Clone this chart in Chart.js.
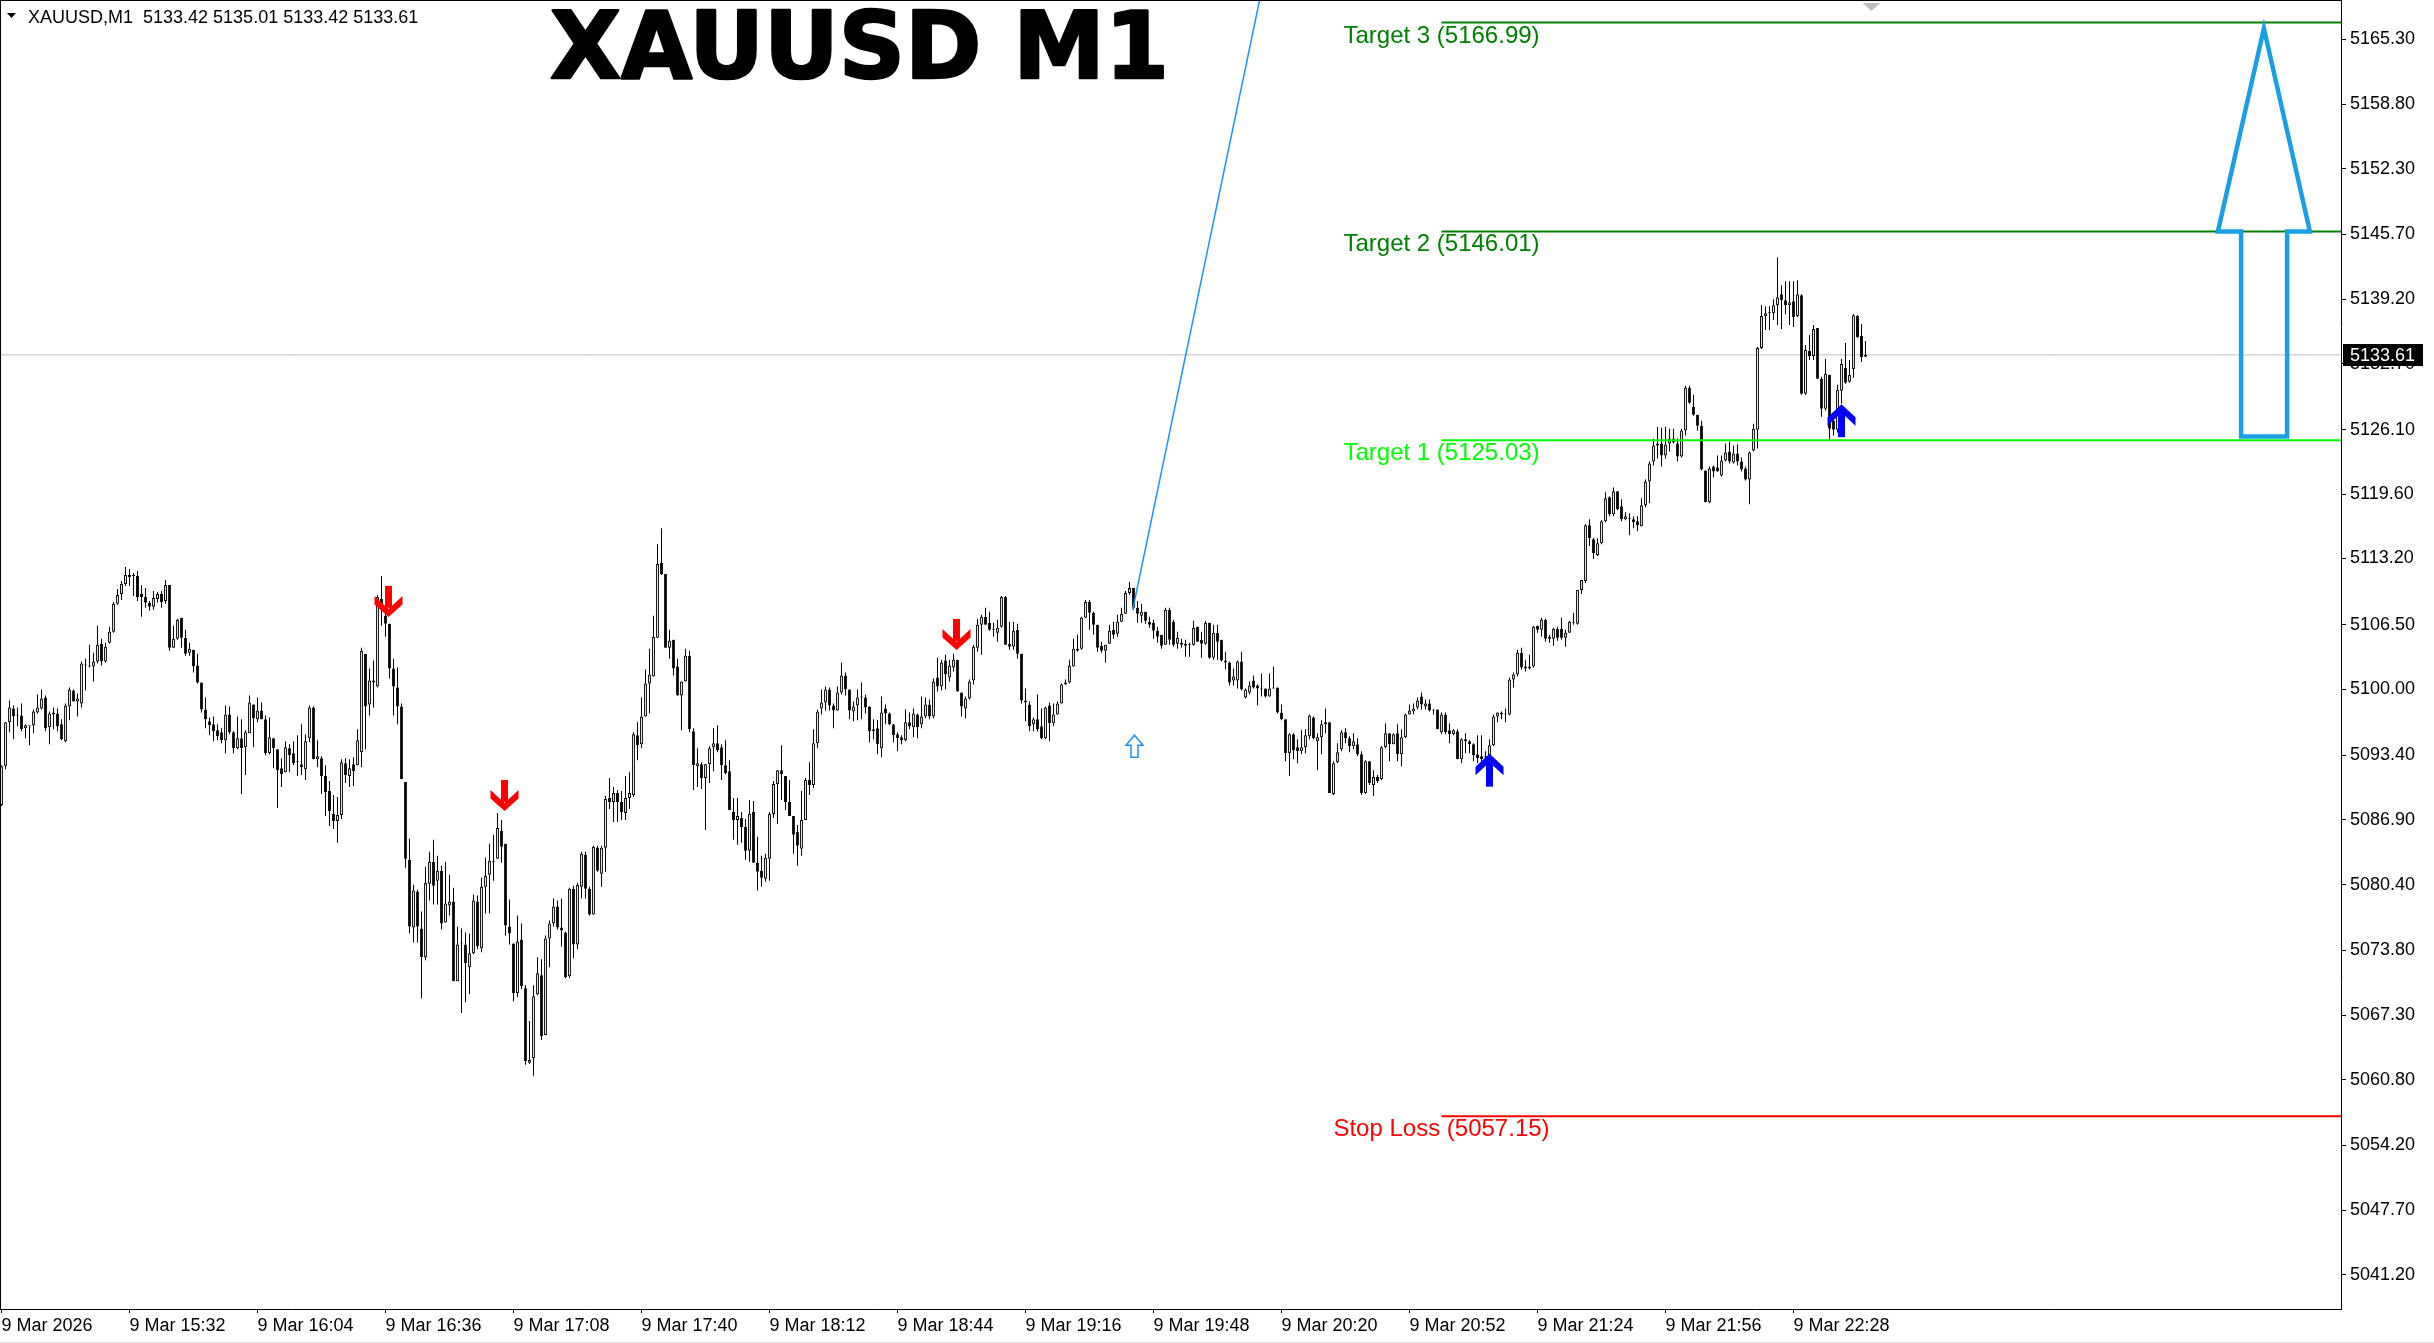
<!DOCTYPE html>
<html><head><meta charset="utf-8">
<script src="https://cdn.jsdelivr.net/npm/chart.js@4.4.1/dist/chart.umd.min.js"></script>
<style>html,body{margin:0;padding:0;background:#fff;overflow:hidden}</style>
</head><body>
<canvas id="c" width="2434" height="1343" style="display:block;width:2434px;height:1343px"></canvas>
<script>
// ---------------- DATA ----------------
const symbol = 'XAUUSD';
const timeframe = 'M1';
const opens = [
5088.4,5092.3,5096.7,5098.1,5097.4,5097.4,5096.1,5096.3,5096.4,5097.7,
5098.1,5099.2,5096.2,5097.7,5097.6,5096.5,5094.8,5098.3,5099.9,5098.8,
5098.6,5102.4,5102.3,5102.3,5102.8,5104.6,5102.8,5104.7,5105.8,5108.6,
5109.6,5110.6,5111.5,5111.4,5111.4,5109.6,5109.3,5108.7,5108.3,5109.1,
5109.6,5108.9,5110.5,5104.2,5105.1,5107.2,5105.2,5103.7,5104.0,5102.4,
5100.7,5098.0,5096.8,5096.5,5095.9,5095.7,5094.9,5097.5,5095.7,5094.1,
5095.1,5094.2,5095.6,5098.5,5097.0,5097.9,5097.0,5093.6,5095.1,5094.0,
5092.1,5091.7,5094.1,5093.6,5092.7,5092.5,5092.0,5095.1,5098.2,5093.0,
5093.1,5091.3,5089.8,5087.5,5086.8,5087.4,5092.6,5091.3,5092.5,5092.4,
5093.7,5103.6,5098.5,5100.9,5100.3,5109.1,5107.4,5106.6,5102.1,5100.2,
5098.3,5090.7,5082.9,5076.1,5079.7,5076.0,5073.1,5080.5,5082.7,5080.8,
5081.8,5076.6,5078.3,5078.7,5070.7,5074.5,5074.4,5072.1,5073.5,5078.7,
5074.0,5080.2,5081.4,5082.7,5083.0,5085.8,5084.5,5076.2,5074.5,5069.5,
5074.9,5070.0,5062.5,5063.0,5069.4,5071.3,5065.3,5075.0,5076.5,5078.2,
5076.1,5075.6,5071.2,5080.0,5074.4,5080.2,5083.4,5080.0,5077.4,5084.1,
5081.5,5084.1,5089.1,5088.7,5089.6,5088.7,5087.6,5089.1,5089.4,5095.4,
5094.5,5097.3,5100.6,5101.3,5105.2,5112.7,5111.6,5104.2,5105.0,5102.3,
5099.4,5100.8,5103.4,5095.8,5092.3,5092.5,5091.1,5092.5,5094.2,5094.6,
5094.2,5092.4,5091.8,5087.7,5086.9,5087.1,5086.2,5083.8,5087.7,5082.6,
5081.8,5081.0,5083.0,5087.5,5090.5,5091.9,5091.3,5088.7,5087.3,5085.7,
5084.0,5086.9,5090.9,5090.4,5094.6,5098.1,5098.7,5100.0,5098.4,5097.9,
5099.7,5101.4,5100.0,5097.8,5098.4,5099.2,5099.2,5098.3,5095.8,5096.1,
5094.1,5098.1,5097.6,5096.5,5095.5,5095.2,5094.9,5096.7,5096.2,5097.5,
5096.5,5097.3,5098.5,5097.3,5101.2,5100.3,5102.9,5101.2,5102.2,5103.0,
5099.7,5098.1,5099.1,5100.9,5104.2,5106.5,5107.3,5106.7,5106.0,5105.7,
5106.3,5109.3,5104.6,5104.3,5106.0,5103.6,5098.9,5098.5,5096.5,5097.0,
5096.3,5095.1,5098.4,5096.6,5097.5,5098.6,5100.5,5100.7,5102.3,5103.9,
5104.1,5107.2,5108.8,5107.7,5106.5,5104.4,5103.9,5104.6,5106.0,5105.6,
5106.8,5107.6,5109.7,5110.2,5108.2,5107.4,5107.8,5106.8,5106.7,5105.9,
5105.5,5104.5,5108.0,5106.8,5104.6,5104.7,5104.6,5104.5,5104.5,5106.3,
5105.0,5104.6,5106.7,5103.2,5105.7,5105.0,5102.9,5102.7,5100.9,5100.9,
5102.8,5099.2,5099.7,5100.9,5100.4,5100.0,5100.1,5099.3,5100.1,5100.2,
5097.7,5097.0,5093.6,5095.5,5094.2,5093.8,5094.2,5095.3,5097.2,5094.8,
5095.2,5096.5,5096.7,5089.5,5092.7,5094.0,5095.7,5095.1,5094.3,5094.5,
5093.5,5089.6,5092.8,5090.4,5091.2,5091.0,5094.2,5095.6,5094.5,5095.6,
5093.5,5095.2,5097.5,5097.8,5098.2,5099.3,5098.3,5098.6,5098.0,5098.0,
5095.7,5097.5,5095.9,5095.5,5095.8,5093.0,5095.0,5094.8,5094.5,5093.5,
5093.3,5093.2,5093.3,5094.4,5097.3,5097.5,5097.5,5097.5,5101.0,5101.5,
5103.7,5102.3,5102.1,5102.3,5106.4,5106.0,5107.0,5105.1,5105.1,5106.1,
5106.1,5105.2,5105.7,5106.7,5106.6,5110.0,5110.9,5116.5,5115.1,5113.5,
5114.7,5116.9,5119.3,5117.6,5119.9,5118.4,5117.1,5117.1,5117.1,5116.9,
5116.4,5118.5,5120.9,5122.9,5124.5,5124.7,5123.5,5124.7,5125.2,5124.7,
5123.4,5126.0,5130.3,5128.4,5127.6,5126.5,5122.0,5118.8,5122.4,5122.3,
5121.5,5123.0,5123.9,5122.8,5123.7,5122.9,5122.2,5121.1,5124.0,5126.1,
5134.3,5137.5,5137.8,5137.8,5138.6,5139.7,5139.1,5138.6,5139.0,5137.5,
5139.6,5129.7,5134.0,5133.5,5136.3,5131.2,5128.2,5131.6,5127.0,5126.1,
5130.0,5132.3,5130.9,5132.2,5137.5,5135.5,5133.42];
const highs = [
5092.4,5096.7,5098.9,5098.4,5098.2,5098.6,5096.5,5096.3,5098.0,5099.5,
5100.0,5099.4,5097.8,5098.2,5098.1,5097.0,5098.6,5100.2,5100.0,5099.6,
5102.8,5103.1,5104.5,5103.7,5106.4,5105.1,5104.7,5106.3,5108.8,5110.1,
5110.9,5112.3,5112.1,5111.7,5111.9,5110.5,5110.2,5108.9,5109.9,5109.8,
5109.9,5111.0,5110.5,5106.4,5107.1,5107.2,5106.0,5104.7,5104.0,5103.6,
5100.7,5099.2,5097.2,5097.3,5096.5,5096.1,5098.4,5098.3,5095.8,5097.3,
5097.0,5095.9,5099.4,5098.5,5099.2,5098.7,5097.4,5097.2,5095.1,5094.0,
5093.1,5094.8,5094.5,5094.8,5095.4,5096.5,5095.5,5098.4,5098.3,5094.9,
5093.3,5092.4,5090.8,5089.4,5089.2,5093.0,5093.1,5093.0,5093.2,5096.0,
5104.2,5103.6,5102.1,5102.9,5109.5,5111.4,5108.8,5106.6,5103.1,5102.2,
5098.6,5090.7,5085.0,5080.4,5079.9,5077.7,5082.2,5083.7,5084.9,5083.3,
5082.3,5082.7,5081.4,5080.1,5076.2,5076.0,5075.6,5075.5,5079.4,5079.3,
5081.1,5083.1,5084.5,5085.4,5087.6,5086.9,5084.5,5078.9,5074.5,5077.3,
5076.5,5070.3,5066.7,5070.3,5073.1,5072.9,5075.3,5076.8,5079.0,5078.8,
5079.0,5075.7,5080.1,5080.3,5080.6,5083.7,5083.7,5080.2,5084.3,5084.3,
5084.3,5089.3,5091.1,5090.2,5089.9,5089.8,5091.3,5091.7,5095.7,5096.7,
5099.2,5102.0,5104.1,5107.4,5114.6,5116.2,5111.6,5106.0,5105.0,5103.1,
5100.8,5104.1,5103.9,5096.1,5094.1,5092.7,5092.5,5094.3,5096.1,5096.4,
5094.5,5094.9,5092.9,5089.1,5089.1,5087.7,5087.0,5088.9,5088.8,5085.2,
5083.3,5083.5,5087.7,5090.8,5091.9,5094.4,5091.3,5090.9,5087.3,5086.4,
5089.8,5091.1,5092.7,5096.0,5098.0,5100.0,5100.3,5100.2,5098.6,5100.3,
5102.7,5101.7,5100.0,5098.8,5100.0,5100.7,5099.5,5098.3,5097.0,5096.9,
5099.3,5098.5,5097.7,5096.5,5095.7,5095.4,5098.0,5097.7,5098.1,5097.6,
5099.3,5099.2,5099.0,5101.1,5103.2,5103.0,5103.5,5103.0,5103.6,5103.0,
5099.7,5099.3,5101.0,5104.5,5107.1,5107.5,5108.2,5107.8,5106.7,5107.0,
5109.4,5109.4,5106.8,5106.8,5106.6,5103.6,5100.1,5098.8,5097.2,5099.5,
5098.1,5098.3,5098.7,5098.6,5098.8,5100.6,5101.0,5103.0,5105.1,5105.5,
5107.3,5109.0,5109.0,5107.8,5106.5,5104.8,5104.5,5106.5,5106.8,5107.5,
5108.2,5109.9,5110.8,5110.2,5108.9,5108.6,5107.8,5107.3,5107.0,5106.3,
5105.5,5108.2,5108.2,5107.0,5105.8,5105.1,5105.0,5104.7,5106.9,5106.3,
5105.8,5106.9,5106.7,5106.5,5106.5,5105.0,5103.8,5102.8,5102.1,5102.9,
5103.8,5100.1,5100.8,5101.4,5100.5,5101.6,5100.1,5101.6,5102.3,5100.2,
5098.5,5097.0,5095.6,5095.6,5095.0,5095.9,5096.0,5097.5,5097.3,5095.6,
5096.9,5098.1,5096.7,5092.8,5094.6,5095.9,5096.1,5095.3,5095.6,5095.1,
5093.8,5092.9,5092.8,5091.9,5091.4,5094.3,5096.6,5095.6,5095.6,5096.5,
5096.0,5097.6,5098.5,5098.6,5099.2,5099.7,5099.0,5099.0,5098.0,5098.0,
5097.7,5097.7,5096.6,5096.0,5096.0,5095.1,5095.6,5094.9,5094.6,5095.4,
5095.4,5093.8,5095.0,5097.5,5097.7,5097.8,5098.1,5101.2,5101.7,5104.0,
5104.2,5103.0,5103.5,5106.4,5106.4,5107.2,5107.1,5105.5,5106.2,5106.3,
5107.2,5106.0,5106.9,5107.7,5110.0,5111.0,5116.6,5117.1,5115.2,5115.2,
5117.0,5119.8,5119.4,5120.3,5119.9,5119.1,5117.8,5117.7,5117.4,5117.4,
5119.2,5121.1,5122.9,5125.2,5126.4,5126.3,5126.4,5126.2,5126.2,5125.2,
5126.2,5130.5,5130.5,5129.6,5127.6,5127.0,5122.0,5122.4,5122.5,5123.5,
5123.5,5124.7,5124.9,5124.5,5124.6,5123.3,5122.4,5123.9,5126.7,5134.4,
5138.6,5138.5,5138.5,5139.2,5143.4,5140.6,5141.0,5141.0,5141.0,5141.1,
5139.7,5134.6,5135.6,5136.6,5136.3,5131.4,5133.2,5131.6,5127.5,5130.6,
5133.2,5134.8,5133.1,5137.7,5137.6,5136.7,5135.01];
const lows = [
5088.3,5092.0,5095.7,5095.0,5096.3,5095.8,5095.1,5094.4,5095.6,5097.6,
5098.0,5095.8,5094.5,5096.0,5095.8,5094.9,5094.7,5096.9,5098.8,5097.3,
5098.2,5099.9,5102.2,5100.8,5102.6,5102.4,5102.7,5104.6,5105.7,5108.5,
5109.0,5110.4,5110.4,5109.4,5108.9,5107.3,5108.2,5107.9,5108.0,5108.7,
5108.2,5108.6,5103.9,5104.2,5105.0,5104.2,5103.4,5103.4,5101.7,5100.6,
5097.7,5096.1,5095.4,5094.8,5094.9,5094.6,5093.6,5095.5,5093.6,5094.0,
5089.5,5091.4,5095.6,5094.2,5096.7,5097.0,5093.4,5093.5,5092.1,5088.1,
5090.2,5091.7,5091.7,5092.4,5091.3,5091.4,5090.9,5094.7,5093.0,5092.2,
5089.5,5087.3,5086.3,5086.0,5084.6,5087.0,5090.6,5090.2,5090.3,5092.4,
5092.2,5094.0,5097.4,5098.2,5100.2,5106.4,5105.3,5101.1,5097.4,5096.5,
5091.0,5082.1,5075.5,5074.6,5074.6,5069.0,5072.8,5078.8,5078.4,5078.4,
5075.9,5076.6,5077.3,5070.7,5070.7,5067.5,5068.6,5069.4,5073.4,5073.9,
5073.6,5077.5,5077.5,5080.8,5083.0,5082.6,5075.3,5074.4,5068.7,5069.1,
5069.9,5062.3,5062.4,5061.2,5069.3,5064.8,5065.3,5072.1,5076.2,5075.9,
5074.2,5071.0,5071.0,5073.0,5073.9,5079.0,5079.0,5077.3,5077.4,5081.7,
5080.2,5081.7,5088.0,5086.7,5086.7,5086.9,5086.9,5088.0,5089.2,5092.9,
5094.1,5097.3,5097.6,5101.3,5105.2,5111.5,5104.2,5103.1,5101.4,5099.4,
5095.9,5100.8,5095.7,5089.9,5090.2,5090.0,5085.9,5090.6,5091.8,5093.7,
5090.9,5091.5,5087.9,5084.9,5084.4,5084.6,5082.9,5082.7,5082.6,5079.8,
5080.2,5080.7,5080.8,5087.1,5086.5,5088.9,5087.9,5087.3,5083.5,5082.3,
5083.3,5086.9,5089.4,5090.1,5094.1,5097.5,5097.9,5097.9,5096.1,5097.9,
5099.5,5099.4,5097.0,5096.8,5096.9,5097.0,5097.6,5094.7,5095.0,5093.5,
5093.2,5096.5,5096.4,5094.7,5093.8,5094.5,5094.8,5096.0,5095.2,5095.1,
5096.1,5097.1,5097.0,5097.1,5099.8,5099.9,5100.0,5100.8,5101.8,5099.8,
5097.3,5097.1,5099.0,5100.5,5103.8,5103.5,5106.5,5105.9,5105.3,5104.8,
5106.2,5104.5,5104.0,5104.0,5103.1,5098.6,5096.8,5095.8,5095.8,5095.8,
5095.0,5095.0,5094.8,5096.3,5097.5,5098.6,5100.5,5100.6,5102.3,5103.8,
5104.0,5107.2,5106.0,5105.5,5103.8,5103.7,5102.7,5104.6,5105.1,5105.3,
5106.8,5107.6,5109.5,5108.0,5106.7,5106.7,5106.6,5106.2,5105.1,5104.7,
5104.1,5104.5,5104.5,5104.3,5104.1,5104.2,5103.3,5103.3,5104.4,5104.8,
5103.2,5104.5,5103.1,5103.0,5103.0,5102.8,5102.0,5100.4,5100.4,5100.1,
5099.9,5099.1,5099.5,5100.1,5098.4,5099.3,5099.2,5099.3,5100.1,5097.6,
5096.9,5092.8,5091.3,5093.0,5092.6,5093.5,5093.6,5095.0,5095.0,5091.9,
5093.5,5095.6,5089.6,5089.4,5092.6,5093.8,5094.6,5093.7,5094.0,5093.3,
5089.4,5089.5,5090.4,5089.3,5090.6,5090.9,5094.1,5092.8,5094.5,5092.8,
5092.3,5095.1,5097.5,5097.5,5098.0,5098.0,5098.0,5097.8,5097.5,5096.0,
5095.5,5095.5,5094.6,5095.4,5093.0,5092.6,5093.6,5093.6,5092.8,5092.6,
5092.8,5093.1,5093.2,5094.3,5096.7,5097.0,5096.7,5097.4,5100.2,5101.3,
5102.0,5101.8,5102.0,5102.2,5105.7,5105.3,5104.8,5104.7,5104.4,5104.9,
5105.0,5104.3,5105.7,5106.5,5106.5,5109.6,5110.7,5114.4,5113.1,5113.4,
5114.6,5116.8,5117.4,5117.4,5118.0,5116.9,5117.0,5115.5,5116.2,5115.9,
5116.4,5118.3,5118.7,5122.5,5123.2,5122.4,5123.2,5123.9,5124.7,5122.9,
5123.3,5125.5,5128.7,5127.5,5126.0,5122.0,5118.8,5118.7,5121.3,5121.9,
5121.4,5122.9,5122.7,5122.7,5122.5,5121.9,5121.0,5118.6,5123.9,5124.2,
5134.2,5136.1,5136.1,5137.1,5136.6,5136.2,5137.7,5136.6,5136.4,5137.4,
5129.6,5129.6,5133.1,5133.1,5131.2,5127.4,5128.0,5125.0,5125.5,5125.8,
5128.7,5130.7,5130.8,5131.3,5135.3,5132.9,5133.42];
const closes = [
5092.3,5096.7,5098.2,5097.3,5097.4,5096.0,5096.4,5096.3,5097.8,5098.2,
5099.1,5096.1,5097.6,5097.5,5096.3,5095.0,5098.4,5100.0,5098.8,5099.1,
5102.6,5102.4,5102.3,5102.8,5104.5,5102.8,5104.3,5105.8,5108.6,5109.5,
5110.6,5111.5,5111.3,5111.4,5109.3,5109.3,5108.7,5108.3,5109.2,5109.6,
5108.8,5110.5,5104.2,5105.1,5107.0,5105.2,5103.6,5104.1,5102.3,5100.7,
5098.0,5097.0,5096.4,5095.8,5095.3,5094.9,5097.5,5095.7,5094.1,5095.1,
5094.1,5095.7,5098.7,5097.1,5097.9,5097.0,5093.6,5095.2,5094.1,5091.9,
5091.5,5094.2,5093.4,5092.6,5092.7,5092.2,5094.8,5098.2,5093.0,5093.3,
5091.3,5089.7,5087.8,5086.8,5087.4,5092.7,5091.4,5092.1,5091.8,5094.9,
5103.9,5098.3,5100.9,5100.7,5109.3,5108.4,5106.6,5102.1,5100.3,5098.3,
5091.0,5083.0,5076.2,5079.8,5076.2,5073.1,5080.6,5082.7,5080.3,5081.8,
5076.5,5078.5,5078.7,5070.7,5074.4,5074.5,5072.5,5073.5,5078.8,5074.2,
5080.2,5081.3,5082.8,5082.7,5086.1,5084.2,5076.3,5075.5,5069.5,5074.7,
5070.2,5062.7,5062.8,5069.2,5071.5,5065.2,5075.0,5076.5,5078.2,5076.1,
5075.8,5071.1,5080.0,5074.4,5080.4,5083.5,5080.0,5077.4,5084.2,5081.8,
5084.1,5089.0,5088.7,5089.6,5088.7,5087.7,5089.1,5089.6,5095.5,5094.4,
5097.3,5100.6,5101.5,5105.3,5112.6,5111.6,5104.2,5104.9,5102.1,5099.4,
5100.8,5103.4,5096.0,5092.4,5092.6,5091.1,5092.5,5094.1,5094.6,5093.9,
5092.4,5091.6,5087.9,5086.9,5087.3,5086.2,5083.8,5087.5,5082.6,5081.7,
5081.1,5083.1,5087.5,5090.5,5091.9,5091.5,5088.7,5087.3,5085.4,5084.3,
5086.9,5090.9,5090.4,5094.6,5097.8,5098.7,5100.0,5098.4,5097.9,5099.7,
5101.4,5100.0,5097.9,5098.3,5099.2,5099.2,5098.2,5095.8,5096.0,5094.5,
5097.7,5097.6,5096.5,5095.4,5095.1,5094.9,5096.7,5096.3,5097.6,5096.2,
5097.3,5098.5,5097.3,5100.8,5100.3,5102.7,5101.5,5102.4,5103.0,5099.8,
5098.3,5099.1,5100.8,5104.3,5106.5,5107.3,5106.5,5106.0,5106.0,5106.2,
5109.3,5104.5,5104.3,5105.9,5103.6,5098.9,5098.7,5096.3,5097.0,5096.0,
5095.1,5098.2,5096.6,5097.5,5098.6,5100.5,5100.7,5102.4,5104.1,5104.1,
5107.2,5108.8,5107.7,5106.5,5104.2,5103.9,5104.5,5105.9,5105.5,5106.8,
5107.6,5109.7,5110.2,5108.2,5107.6,5107.8,5106.9,5106.5,5105.9,5105.3,
5104.4,5108.0,5105.0,5104.5,5105.2,5104.5,5104.4,5104.5,5106.2,5104.8,
5104.6,5106.7,5103.2,5105.7,5104.8,5102.9,5102.7,5100.7,5101.3,5102.8,
5100.0,5100.0,5100.4,5100.2,5100.1,5100.0,5099.3,5100.1,5100.1,5097.7,
5097.0,5093.6,5095.5,5093.9,5093.8,5094.2,5095.4,5097.4,5095.1,5095.2,
5096.5,5096.7,5089.6,5092.6,5093.7,5095.7,5095.1,5094.3,5094.8,5093.5,
5089.6,5092.8,5090.6,5091.2,5090.8,5094.2,5095.6,5094.5,5095.5,5093.5,
5095.2,5097.5,5097.9,5098.1,5098.9,5098.5,5098.6,5097.9,5097.9,5096.0,
5097.5,5095.7,5095.5,5095.9,5093.0,5095.0,5094.8,5094.5,5093.4,5093.1,
5093.0,5093.2,5094.4,5097.3,5097.7,5097.7,5097.5,5101.0,5101.5,5103.7,
5102.2,5102.1,5102.3,5106.3,5106.0,5107.0,5105.1,5105.3,5106.1,5105.2,
5105.2,5105.7,5106.8,5106.8,5110.0,5111.0,5116.5,5115.2,5113.7,5114.7,
5116.9,5119.2,5117.6,5119.9,5118.1,5117.1,5117.4,5117.2,5116.8,5116.5,
5118.5,5120.9,5122.7,5124.5,5124.7,5123.5,5124.6,5125.2,5124.8,5123.4,
5126.0,5130.3,5128.8,5127.6,5126.5,5122.1,5118.8,5122.2,5121.9,5121.9,
5123.0,5123.8,5122.9,5123.7,5122.9,5122.1,5121.1,5123.8,5126.2,5134.3,
5137.5,5137.8,5137.8,5138.6,5139.4,5139.1,5138.6,5138.9,5137.4,5139.7,
5129.7,5134.1,5133.5,5136.2,5131.2,5128.2,5131.7,5126.2,5126.1,5130.1,
5132.7,5130.8,5131.6,5137.6,5135.4,5133.4,5133.61];

// time axis: bar index of each label (1 bar = 1 minute from 15:00) and texts
const timeTickIdx = [0,32,64,96,128,160,192,224,256,288,320,352,384,416,448];
const timeLabels = ['9 Mar 2026','9 Mar 15:32','9 Mar 16:04','9 Mar 16:36','9 Mar 17:08','9 Mar 17:40',
  '9 Mar 18:12','9 Mar 18:44','9 Mar 19:16','9 Mar 19:48','9 Mar 20:20','9 Mar 20:52',
  '9 Mar 21:24','9 Mar 21:56','9 Mar 22:28'];
// price axis ticks
const priceTicks = [5165.30,5158.80,5152.30,5145.70,5139.20,5132.70,5126.10,5119.60,5113.20,5106.50,
  5100.00,5093.40,5086.90,5080.40,5073.80,5067.30,5060.80,5054.20,5047.70,5041.20];
// visible range (bars, price)
const xRange = [-0.375, 584.875];
const yRange = [5037.78, 5169.25];

// levels
const levelLabels = ['Target 3','Target 2','Target 1','Stop Loss'];
const levelValues = [5166.99, 5146.01, 5125.03, 5057.15];
const levelStartBar = 360;

// signal arrows (bar index, price at arrow centre)
const sellArrowX = [96.6, 125.6, 238.6];
const sellArrowY = [5108.85, 5089.35, 5105.53];
const buyArrowX = [371.9, 459.8];
const buyArrowY = [5091.9, 5127.0];
const hollowArrowX = [283.0];
const hollowArrowY = [5094.3];

// trend line
const trendX = [282.8, 316.0];
const trendY = [5108.0, 5172.1];

// big target arrow outline (bar index, price)
const bigArrowX = [565.6, 577.1, 571.4, 571.4, 559.9, 559.9, 554.1];
const bigArrowY = [5166.4, 5146.0, 5146.0, 5125.4, 5125.4, 5146.0, 5146.0];

// chart shift marker (bar index)
const shiftMarkX = 467.5;

// ---------------- STYLE ----------------
const FONT = '"Liberation Sans", Arial, sans-serif';
const STYLE = {
  levelColors: ['#008000', '#008000', '#00ff00', '#ff0000'],
  sell: '#ff0000', buy: '#0000ff', hollow: '#1e90ff',
  trend: '#1e90ff', bigArrow: '#1a9fe2', priceLine: '#c0c0c0'
};

// ---------------- BUILD ----------------
const N = opens.length;
const lastPrice = closes[N - 1];
const idx = opens.map((_, i) => i);
const wickData = idx.map(i => ({x: i, y: [lows[i], highs[i]]}));
const bodyData = idx.map(i => ({x: i, y: [opens[i], closes[i]]}));
const bodyFill = idx.map(i => closes[i] >= opens[i] ? '#ffffff' : '#000000');

const datasets = [
  {type: 'line', data: trendX.map((x, k) => ({x, y: trendY[k]})), borderColor: STYLE.trend,
   borderWidth: 1.5, pointRadius: 0, order: 2},
  ...levelValues.map((v, k) => ({type: 'line', data: [{x: levelStartBar, y: v}, {x: xRange[1], y: v}],
   borderColor: STYLE.levelColors[k], borderWidth: 2, pointRadius: 0, order: 3})),
  {type: 'bar', data: bodyData, backgroundColor: bodyFill, borderColor: '#000', borderWidth: 1,
   borderSkipped: false, maxBarThickness: 3, grouped: false, minBarLength: 1, inflateAmount: 0, order: 5},
  {type: 'bar', data: wickData, backgroundColor: '#000', borderWidth: 0, maxBarThickness: 1,
   grouped: false, inflateAmount: 0, order: 6},
  {type: 'line', data: [{x: xRange[0], y: lastPrice}, {x: xRange[1], y: lastPrice}],
   borderColor: STYLE.priceLine, borderWidth: 1, pointRadius: 0, order: 9}
];

function downArrow(ctx, cx, cy, color) {
  ctx.fillStyle = color;
  ctx.fillRect(cx - 3.5, cy - 15.5, 7, 22);
  ctx.beginPath();
  ctx.moveTo(cx - 14, cy - 5.5); ctx.lineTo(cx, cy + 7.5); ctx.lineTo(cx + 14, cy - 5.5);
  ctx.lineTo(cx + 14, cy + 3); ctx.lineTo(cx, cy + 15.5); ctx.lineTo(cx - 14, cy + 3);
  ctx.closePath(); ctx.fill();
}
function upArrow(ctx, cx, cy, color) {
  ctx.fillStyle = color;
  ctx.fillRect(cx - 3.5, cy - 9, 7, 25.5);
  ctx.beginPath();
  ctx.moveTo(cx - 14, cy - 3.5); ctx.lineTo(cx, cy - 16.5); ctx.lineTo(cx + 14, cy - 3.5);
  ctx.lineTo(cx + 14, cy + 5); ctx.lineTo(cx, cy - 8); ctx.lineTo(cx - 14, cy + 5);
  ctx.closePath(); ctx.fill();
}
function hollowUp(ctx, cx, cy, color) {
  ctx.beginPath();
  ctx.moveTo(cx, cy - 11); ctx.lineTo(cx + 8.5, cy - 1); ctx.lineTo(cx + 3.5, cy - 1);
  ctx.lineTo(cx + 3.5, cy + 11); ctx.lineTo(cx - 3.5, cy + 11); ctx.lineTo(cx - 3.5, cy - 1);
  ctx.lineTo(cx - 8.5, cy - 1); ctx.closePath();
  ctx.fillStyle = '#fff'; ctx.fill();
  ctx.strokeStyle = color; ctx.lineWidth = 1.5; ctx.stroke();
}

const overlay = {
  id: 'overlay',
  beforeDraw(chart) {
    const ctx = chart.ctx;
    ctx.save(); ctx.fillStyle = '#fff'; ctx.fillRect(0, 0, chart.width, chart.height); ctx.restore();
  },
  afterDatasetsDraw(chart) {
    const {ctx, chartArea: a, scales: {x, y}} = chart;
    ctx.save();
    ctx.beginPath(); ctx.rect(a.left, a.top, a.right - a.left, a.bottom - a.top); ctx.clip();
    // level labels
    ctx.font = '24px ' + FONT; ctx.textAlign = 'center'; ctx.textBaseline = 'alphabetic';
    levelValues.forEach((v, k) => {
      ctx.fillStyle = STYLE.levelColors[k];
      ctx.fillText(levelLabels[k] + ' (' + v.toFixed(2) + ')', x.getPixelForValue(levelStartBar), y.getPixelForValue(v) + 20);
    });
    // big arrow
    ctx.beginPath();
    bigArrowX.forEach((bx, k) => {
      const px = x.getPixelForValue(bx), py = y.getPixelForValue(bigArrowY[k]);
      k ? ctx.lineTo(px, py) : ctx.moveTo(px, py);
    });
    ctx.closePath();
    ctx.strokeStyle = STYLE.bigArrow; ctx.lineWidth = 4.5; ctx.lineJoin = 'miter'; ctx.stroke();
    // signal arrows
    const rx = v => Math.round(x.getPixelForValue(v)) + 0.5;
    sellArrowX.forEach((v, k) => downArrow(ctx, rx(v), y.getPixelForValue(sellArrowY[k]), STYLE.sell));
    buyArrowX.forEach((v, k) => upArrow(ctx, rx(v), y.getPixelForValue(buyArrowY[k]), STYLE.buy));
    hollowArrowX.forEach((v, k) => hollowUp(ctx, rx(v), y.getPixelForValue(hollowArrowY[k]), STYLE.hollow));
    ctx.restore();
  },
  afterDraw(chart) {
    const {ctx, chartArea: a, scales: {x, y}} = chart;
    ctx.save();
    // frame (top / left)
    ctx.fillStyle = '#000';
    ctx.fillRect(a.left, a.top, 1, a.bottom - a.top);
    ctx.fillRect(a.left, a.top, a.right - a.left, 1);
    // window bottom edge
    ctx.fillStyle = '#e4e4e4'; ctx.fillRect(0, chart.height - 1, chart.width, 1);
    // shift marker
    const sx = x.getPixelForValue(shiftMarkX);
    ctx.fillStyle = '#c0c0c0';
    ctx.beginPath(); ctx.moveTo(sx - 9, a.top + 3); ctx.lineTo(sx + 9, a.top + 3); ctx.lineTo(sx, a.top + 11); ctx.closePath(); ctx.fill();
    // header
    ctx.fillStyle = '#000';
    ctx.beginPath(); ctx.moveTo(7, 13); ctx.lineTo(16, 13); ctx.lineTo(11.5, 18); ctx.closePath(); ctx.fill();
    ctx.font = '18px ' + FONT; ctx.textAlign = 'left'; ctx.textBaseline = 'alphabetic';
    ctx.fillText(symbol + ',' + timeframe + '  ' + [opens[N-1], highs[N-1], lows[N-1], closes[N-1]].map(v => v.toFixed(2)).join(' '), 28, 23);
    // big title (heavy weight)
    ctx.font = 'bold 92px "DejaVu Sans", sans-serif';
    ctx.strokeStyle = '#000'; ctx.lineWidth = 2.5; ctx.lineJoin = 'round';
    ctx.fillText(symbol + ' ' + timeframe, 550, 78);
    ctx.strokeText(symbol + ' ' + timeframe, 550, 78);
    // current price box
    const py = Math.round(y.getPixelForValue(lastPrice));
    ctx.fillStyle = '#000'; ctx.fillRect(a.right + 2, py - 11, 80, 22);
    ctx.fillStyle = '#fff'; ctx.font = '18px ' + FONT; ctx.textBaseline = 'middle';
    ctx.fillText(lastPrice.toFixed(2), a.right + 9, py + 1);
    ctx.restore();
  }
};

function noPad(s) { s.paddingTop = 0; s.paddingBottom = 0; s.paddingLeft = 0; s.paddingRight = 0; }

Chart.defaults.font.family = FONT;
new Chart(document.getElementById('c'), {
  type: 'bar',
  data: {datasets},
  options: {
    responsive: false, maintainAspectRatio: false, devicePixelRatio: 1, animation: false, events: [],
    layout: {padding: 0},
    plugins: {legend: {display: false}, tooltip: {enabled: false}, title: {display: false}},
    scales: {
      x: {
        type: 'linear', position: 'bottom', min: xRange[0], max: xRange[1], offset: false,
        grid: {display: true, offset: false, drawOnChartArea: false, drawTicks: true, tickLength: 4, color: '#000'},
        border: {display: true, color: '#000', width: 1},
        ticks: {autoSkip: false, maxRotation: 0, minRotation: 0, align: 'start', padding: 2,
          color: '#000', font: {size: 18, family: FONT},
          callback: (v) => { const k = timeTickIdx.indexOf(v); return k >= 0 ? timeLabels[k] : ''; }},
        afterBuildTicks: (s) => { s.ticks = timeTickIdx.map(v => ({value: v})); },
        afterFit: (s) => { s.height = 34; noPad(s); }
      },
      y: {
        type: 'linear', position: 'right', min: yRange[0], max: yRange[1],
        grid: {display: true, drawOnChartArea: false, drawTicks: true, tickLength: 5, color: '#000'},
        border: {display: true, color: '#000', width: 1},
        ticks: {padding: 4, color: '#000', font: {size: 18, family: FONT}, autoSkip: false,
          callback: (v) => Number(v).toFixed(2)},
        afterBuildTicks: (s) => { s.ticks = priceTicks.map(v => ({value: v})); },
        afterFit: (s) => { s.width = 93; noPad(s); }
      }
    }
  },
  plugins: [overlay]
});
</script>
</body></html>
